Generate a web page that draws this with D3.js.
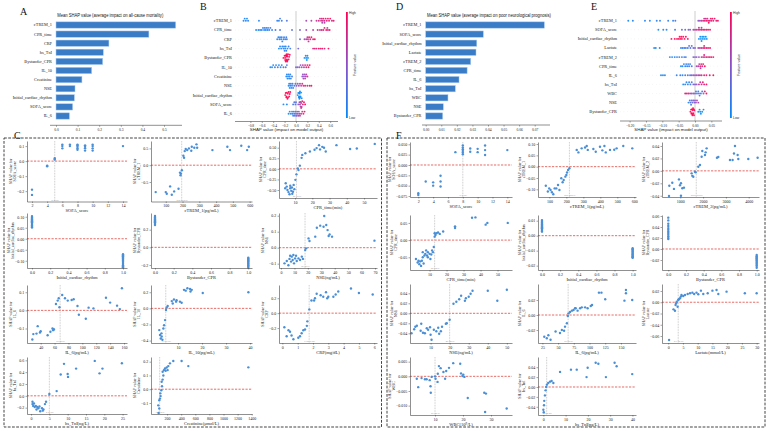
<!DOCTYPE html>
<html><head><meta charset="utf-8">
<script src="https://cdn.jsdelivr.net/npm/d3@7/dist/d3.min.js"></script>
<style>html,body{margin:0;padding:0;background:#fff;}svg{display:block;}</style>
</head><body>
<svg id="chart" width="767" height="431"></svg>
<script>
// ================= DATA =================
const featuresA = ["cTREM_1","CPR_time","CRP","hs_TnI","Bystander_CPR","IL_10","Creatinine","NSE","Initial_cardiac_rhythm","SOFA_score","IL_6"];
const meanShapA = [0.554,0.43,0.245,0.219,0.216,0.165,0.12,0.088,0.085,0.077,0.062];
const ticksA = [0,0.1,0.2,0.3,0.4,0.5];
const featuresD = ["cTREM_1","SOFA_score","Initial_cardiac_rhythm","Lactate","cTREM_2","CPR_time","IL_6","hs_TnI","WBC","NSE","Bystander_CPR"];
const meanShapD = [0.0762,0.037,0.0328,0.0323,0.0289,0.0266,0.0214,0.019,0.0143,0.0113,0.0109];
const ticksD = [0,0.01,0.02,0.03,0.04,0.05,0.06,0.07];

// beeswarm B: [shap value, normalised feature value]
const B_cTREM_1 = [[-0.92,0.05],[-0.9,0.08],[-0.88,0.1],[-0.86,0.05],[-0.84,0.12],[-0.65,0.1],[-0.33,0.15],[-0.3,0.12],[-0.28,0.2],[-0.25,0.18],[-0.16,0.25],[0.18,0.6],[0.27,0.65],[0.36,0.75],[0.4,0.8],[0.42,0.7],[0.44,0.85],[0.45,0.9],[0.47,0.75],[0.48,0.95],[0.5,0.8],[0.52,0.9],[0.54,0.85],[0.56,0.95],[0.58,0.9],[0.6,1],[0.63,0.85],[0.66,0.9],[0.46,0.6],[0.5,0.7]];
const B_CPR_time = [[-0.7,0.05],[-0.66,0.1],[-0.63,0.08],[-0.6,0.12],[-0.58,0.1],[-0.56,0.05],[-0.55,0.15],[-0.53,0.1],[-0.52,0.12],[-0.5,0.08],[-0.49,0.15],[-0.47,0.1],[-0.45,0.2],[-0.42,0.15],[-0.36,0.2],[-0.28,0.25],[-0.07,0.3],[0.07,0.4],[0.18,0.6],[0.3,0.7],[0.38,0.8],[0.42,0.75],[0.45,0.9],[0.48,0.85],[0.5,0.95],[0.53,0.9],[0.56,0.85],[0.59,1],[0.55,0.7]];
const B_CRP = [[-0.33,0.05],[-0.31,0.1],[-0.29,0.08],[-0.28,0.12],[-0.26,0.1],[-0.25,0.15],[-0.24,0.05],[-0.22,0.12],[-0.21,0.1],[-0.19,0.15],[-0.17,0.2],[-0.16,0.12],[0.07,0.35],[0.15,0.6],[0.18,0.7],[0.2,0.65],[0.21,0.8],[0.22,0.75],[0.23,0.9],[0.25,0.85],[0.27,0.95],[0.3,0.9],[0.33,1]];
const B_hs_TnI = [[-0.3,0.05],[-0.28,0.1],[-0.26,0.08],[-0.24,0.12],[-0.22,0.1],[-0.21,0.05],[-0.2,0.15],[-0.19,0.1],[-0.18,0.08],[-0.17,0.12],[-0.15,0.1],[-0.13,0.15],[-0.1,0.2],[0.04,0.4],[0.3,0.8],[0.33,0.9],[0.36,0.85],[0.4,0.95],[0.43,0.9],[0.46,1],[0.5,0.85],[0.57,0.95]];
const B_Bystander_CPR = [[-0.22,1],[-0.2,1],[-0.19,1],[-0.19,1],[-0.18,1],[-0.18,1],[-0.17,1],[-0.17,1],[-0.165,1],[-0.16,1],[-0.16,1],[-0.155,1],[-0.15,1],[-0.15,1],[-0.14,1],[-0.13,1],[-0.12,1],[-0.11,1],[0.15,0],[0.17,0],[0.18,0],[0.19,0],[0.2,0],[0.21,0]];
const B_IL_10 = [[-0.45,0.05],[-0.42,0.1],[-0.4,0.08],[-0.37,0.12],[-0.35,0.1],[-0.32,0.15],[-0.3,0.1],[-0.27,0.12],[-0.25,0.15],[-0.22,0.2],[-0.18,0.2],[-0.16,0.25],[0.0,0.4],[0.03,0.45],[0.06,0.55],[0.08,0.5],[0.1,0.6],[0.12,0.7],[0.14,0.65],[0.16,0.8],[0.18,0.9],[0.2,0.85],[0.22,0.95],[0.24,1]];
const B_Creatinine = [[-0.17,0.05],[-0.16,0.1],[-0.15,0.08],[-0.14,0.12],[-0.13,0.1],[-0.12,0.05],[-0.11,0.15],[-0.1,0.1],[-0.09,0.12],[-0.07,0.2],[0.11,0.5],[0.12,0.55],[0.13,0.6],[0.14,0.5],[0.15,0.55],[0.16,0.65],[0.17,0.6],[0.18,0.7],[0.2,0.8]];
const B_NSE = [[-0.13,0.05],[-0.12,0.1],[-0.11,0.12],[-0.1,0.08],[-0.09,0.15],[-0.08,0.1],[-0.07,0.12],[-0.06,0.2],[-0.05,0.15],[-0.03,0.2],[-0.01,0.25],[0.01,0.5],[0.03,0.55],[0.05,0.6],[0.07,0.7],[0.09,0.65],[0.11,0.8],[0.13,0.75],[0.16,0.9],[0.2,0.85],[0.24,0.95],[0.27,1]];
const B_Initial_cardiac_rhythm = [[-0.19,1],[-0.18,1],[-0.17,1],[-0.165,1],[-0.16,1],[-0.15,1],[-0.145,1],[-0.14,1],[-0.13,1],[-0.12,1],[-0.11,1],[-0.1,1],[0.03,0],[0.04,0],[0.05,0],[0.055,0],[0.06,0],[0.06,0],[0.065,0],[0.07,0],[0.07,0],[0.08,0],[0.09,0],[0.1,0]];
const B_SOFA_score = [[-0.22,0.05],[-0.16,0.1],[-0.05,0.2],[-0.03,0.25],[-0.01,0.3],[0.0,0.3],[0.04,0.5],[0.06,0.6],[0.07,0.7],[0.08,0.65],[0.08,0.7],[0.09,0.8],[0.09,0.6],[0.1,0.75],[0.11,0.9],[0.12,0.85],[0.14,0.95],[0.16,1]];
const B_IL_6 = [[-0.13,0.05],[-0.11,0.1],[-0.09,0.12],[-0.07,0.15],[-0.06,0.1],[-0.05,0.2],[-0.04,0.15],[-0.03,0.25],[-0.02,0.2],[-0.01,0.3],[0.0,0.4],[0.01,0.45],[0.02,0.5],[0.03,0.55],[0.04,0.6],[0.05,0.5],[0.06,0.65],[0.07,0.7],[0.09,0.75],[0.11,0.8],[0.13,0.85],[0.15,0.95]];
const ticksB = [-0.8,-0.6,-0.4,-0.2,0,0.2,0.4,0.6];

// beeswarm E
const E_cTREM_1 = [[-0.204,0.05],[-0.19,0.08],[-0.153,0.1],[-0.138,0.05],[-0.117,0.12],[-0.107,0.1],[-0.082,0.15],[-0.067,0.12],[-0.06,0.2],[0.01,0.5],[0.015,0.6],[0.02,0.7],[0.025,0.8],[0.028,0.75],[0.03,0.9],[0.033,0.85],[0.035,0.95],[0.038,0.8],[0.04,0.9],[0.042,1],[0.045,0.85],[0.048,0.95],[0.05,0.9],[0.053,1],[0.056,0.85],[0.06,0.95],[0.065,0.9],[0.07,1]];
const E_SOFA_score = [[-0.112,0.05],[-0.097,0.1],[-0.087,0.1],[-0.061,0.15],[-0.04,0.3],[-0.03,0.35],[-0.02,0.4],[-0.015,0.5],[-0.005,0.6],[0.0,0.7],[0.005,0.75],[0.01,0.8],[0.012,0.75],[0.015,0.85],[0.02,0.9],[0.02,0.7],[0.025,0.95],[0.03,0.85],[0.035,0.9],[0.04,1],[0.046,0.95]];
const E_Initial_cardiac_rhythm = [[-0.072,1],[-0.062,1],[-0.055,1],[-0.05,1],[-0.047,1],[-0.045,1],[-0.042,1],[-0.04,1],[-0.036,1],[-0.032,1],[-0.028,1],[-0.022,1],[0.012,0],[0.016,0],[0.018,0],[0.02,0],[0.022,0],[0.024,0],[0.027,0],[0.03,0],[0.033,0],[0.036,0]];
const E_Lactate = [[-0.125,0.05],[-0.12,0.08],[-0.108,0.1],[-0.043,0.15],[-0.038,0.1],[-0.033,0.2],[-0.028,0.15],[-0.022,0.2],[-0.018,0.25],[-0.014,0.3],[-0.01,0.3],[-0.005,0.35],[0.0,0.45],[0.01,0.6],[0.015,0.7],[0.02,0.75],[0.025,0.8],[0.028,0.85],[0.03,0.9],[0.035,0.85],[0.04,0.95],[0.046,1]];
const E_cTREM_2 = [[-0.077,0.05],[-0.07,0.1],[-0.062,0.08],[-0.055,0.12],[-0.048,0.1],[-0.04,0.15],[-0.033,0.2],[-0.028,0.15],[-0.005,0.4],[0.0,0.45],[0.005,0.5],[0.012,0.55],[0.02,0.7],[0.025,0.8],[0.028,0.85],[0.03,0.75],[0.035,0.9],[0.04,0.85],[0.045,0.95],[0.05,1],[0.056,0.9]];
const E_CPR_time = [[-0.043,0.05],[-0.038,0.1],[-0.034,0.12],[-0.03,0.08],[-0.027,0.15],[-0.024,0.1],[-0.021,0.12],[-0.018,0.2],[-0.015,0.15],[-0.01,0.25],[0.005,0.6],[0.01,0.7],[0.013,0.75],[0.016,0.8],[0.017,0.7],[0.019,0.85],[0.022,0.9],[0.025,0.95],[0.03,1]];
const E_IL_6 = [[-0.104,0.05],[-0.098,0.08],[-0.092,0.1],[-0.056,0.12],[-0.045,0.15],[-0.038,0.1],[-0.03,0.2],[-0.022,0.25],[-0.015,0.3],[-0.01,0.45],[-0.005,0.5],[0.0,0.55],[0.005,0.6],[0.01,0.65],[0.015,0.75],[0.02,0.8],[0.028,0.85],[0.035,0.9],[0.045,0.95],[0.056,1]];
const E_hs_TnI = [[-0.036,0.05],[-0.03,0.1],[-0.026,0.12],[-0.022,0.15],[-0.018,0.1],[-0.014,0.2],[-0.01,0.25],[-0.005,0.4],[0.0,0.45],[0.005,0.5],[0.012,0.7],[0.016,0.75],[0.02,0.8],[0.024,0.9],[0.028,0.85],[0.035,1]];
const E_WBC = [[-0.03,0.9],[-0.025,0.85],[-0.02,0.8],[-0.015,0.6],[-0.01,0.55],[-0.005,0.5],[0.0,0.45],[0.003,0.2],[0.006,0.15],[0.01,0.1],[0.012,0.4],[0.014,0.2],[0.018,0.15],[0.022,0.25],[0.026,0.3],[0.03,0.9],[0.035,1]];
const E_NSE = [[-0.02,0.1],[-0.016,0.15],[-0.014,0.35],[-0.012,0.2],[-0.01,0.5],[-0.008,0.3],[-0.005,0.4],[-0.002,0.5],[0.0,0.45],[0.003,0.55],[0.006,0.6],[0.01,0.65]];
const E_Bystander_CPR = [[-0.014,1],[-0.012,1],[-0.011,1],[-0.01,1],[-0.009,1],[-0.008,1],[-0.007,1],[-0.0065,1],[-0.006,1],[-0.005,1],[-0.004,1],[-0.003,1],[-0.002,1],[0.01,0],[0.014,0],[0.016,0],[0.018,0],[0.022,0],[0.026,0]];
const ticksE = [-0.2,-0.15,-0.1,-0.05,0,0.05];

// dependence plots, panel C: [feature value, SHAP value]
const C_SOFA_score = [[2,-0.19],[2,-0.225],[4,-0.03],[4,-0.035],[5,0.01],[5,0.02],[5,0.015],[6,0.085],[6,0.1],[6,0.11],[7,0.1],[7,0.11],[8,0.075],[8,0.085],[8,0.095],[8,0.105],[8,0.11],[9,0.07],[9,0.085],[9,0.095],[9,0.105],[10,0.07],[10,0.085],[10,0.1],[10,0.11],[14,0.1]];
const C_cTREM_1 = [[40,-0.8],[100,-0.8],[106,-0.85],[126,-0.63],[136,-0.88],[150,-0.78],[176,-0.7],[185,-0.22],[188,-0.3],[190,-0.25],[196,-0.15],[205,0.28],[209,0.22],[213,0.42],[219,0.48],[228,0.45],[238,0.5],[252,0.43],[255,0.55],[270,0.52],[283,0.62],[287,0.52],[378,0.45],[467,0.55],[483,0.45],[550,0.58],[585,0.45],[595,0.55]];
const C_CPR_time = [[4.3,-0.46],[4.6,-0.34],[5.2,-0.42],[5.6,-0.5],[6.2,-0.55],[6.8,-0.6],[7.2,-0.4],[7.2,-0.46],[7.8,-0.52],[8.2,-0.44],[8.4,-0.59],[8.8,-0.54],[9.2,-0.38],[9.6,-0.48],[10.2,-0.26],[10.8,-0.13],[11.6,0.01],[12,-0.03],[12.8,0.075],[13.8,0.26],[14.2,0.33],[16,0.37],[18.6,0.41],[21.3,0.45],[22.5,0.49],[23.9,0.56],[24.5,0.46],[25.8,0.52],[26.8,0.5],[27.8,0.41],[34,0.56],[41.9,0.47],[45.8,0.48],[56.2,0.59]];
const C_Initial_cardiac_rhythm = [[0,0.103],[0,0.099],[0,0.095],[0,0.091],[0,0.087],[0,0.083],[0,0.079],[0,0.075],[0,0.071],[0,0.067],[0,0.063],[0,0.059],[0,0.055],[0,0.051],[1,-0.07],[1,-0.075],[1,-0.08],[1,-0.085],[1,-0.09],[1,-0.095],[1,-0.1],[1,-0.105],[1,-0.11],[1,-0.115],[1,-0.12],[1,-0.125],[1,-0.13]];
const C_Bystander_CPR = [[0,0.355],[0,0.345],[0,0.335],[0,0.325],[0,0.315],[0,0.305],[0,0.295],[0,0.285],[0,0.275],[0,0.265],[0,0.253],[1,-0.117],[1,-0.127],[1,-0.137],[1,-0.147],[1,-0.157],[1,-0.167],[1,-0.177],[1,-0.187],[1,-0.197],[1,-0.207],[1,-0.217],[1,-0.23]];
const C_NSE = [[2.6,-0.098],[4.3,-0.083],[5.5,-0.11],[6.3,-0.07],[6.8,-0.05],[7.5,-0.087],[8,-0.056],[8.7,-0.077],[9.2,-0.046],[9.7,-0.098],[10.5,-0.067],[11.2,-0.05],[11.7,-0.083],[13,-0.067],[14.2,-0.077],[15.5,-0.056],[16.3,-0.07],[18,-0.015],[18.7,-0.004],[20.5,0.058],[21.2,0.042],[25.5,0.069],[26.7,0.125],[29.2,0.138],[31.7,0.131],[32.2,0.198],[33.7,0.142],[34.7,0.11],[35.5,0.073],[36.2,0.083],[38,0.069],[69.6,0.044]];
const C_IL_6 = [[28,-0.161],[29.4,-0.131],[34,-0.128],[35.7,-0.087],[39,-0.122],[40,-0.115],[50,-0.137],[54,-0.118],[57,-0.1],[58,-0.109],[59,-0.104],[62,0.035],[64.5,0.054],[66,0.067],[67,0.017],[71,0.085],[75,0.067],[79,0.054],[84.6,0.057],[87.5,0.061],[93,0.024],[95,-0.024],[105,-0.046],[109,0.015],[116,0.011],[134,0.07],[140,0.043],[150,0.026],[154,0.007],[157,0.122]];
const C_IL_10 = [[2.2,-0.27],[2.5,-0.33],[2.8,-0.375],[3.1,-0.31],[3.2,-0.35],[3.5,-0.39],[3.9,-0.25],[4.2,-0.21],[4.6,-0.146],[5,-0.02],[5.3,0.01],[5.7,0.03],[7.4,0.09],[7.8,0.06],[8.3,0.11],[9.2,0.083],[9.4,0.1],[10.8,0.083],[11.5,0.07],[12.5,0.23],[13.2,0.22],[13.9,0.25],[15,0.24],[15.2,0.21],[15.7,0.23],[20.3,0.19],[39.3,0.2]];
const C_CRP = [[0.13,-0.19],[0.28,-0.31],[0.4,-0.23],[0.5,-0.25],[0.6,-0.3],[0.72,-0.35],[1.04,-0.33],[1.15,-0.31],[1.26,-0.27],[1.37,-0.23],[1.48,-0.22],[1.6,-0.17],[1.63,-0.11],[1.76,0.05],[1.9,0.17],[2.07,0.17],[2.13,0.2],[2.24,0.26],[2.5,0.24],[2.67,0.22],[2.85,0.28],[2.93,0.2],[3.0,0.22],[3.33,0.22],[3.48,0.25],[3.65,0.29],[4.48,0.33],[5.0,0.27],[5.9,0.25]];
const C_hs_TnI = [[0.4,-0.1],[0.4,-0.14],[0.6,-0.17],[0.8,-0.13],[1.0,-0.19],[1.3,-0.17],[1.5,-0.23],[1.7,-0.19],[2.0,-0.21],[2.3,-0.18],[2.5,-0.26],[3.0,-0.21],[3.2,-0.25],[3.4,-0.23],[3.8,-0.14],[4.1,-0.1],[5.0,0.03],[7.0,0.08],[8.1,0.36],[9.0,0.54],[10.0,0.37],[10.1,0.32],[12.3,0.46],[17.4,0.59],[18.7,0.38],[19.5,0.46],[24.8,0.55]];
const C_Creatinine = [[75,-0.117],[80,-0.173],[89,-0.14],[89,-0.08],[99,-0.068],[104,-0.03],[108,-0.05],[118,-0.007],[123,0.054],[128,0.022],[137,0.07],[137,0.127],[147,0.1],[156,0.139],[170,0.151],[180,0.134],[194,0.158],[208,0.139],[217,0.168],[241,0.188],[288,0.205],[406,0.205],[501,0.168],[1352,0.159]];

// dependence plots, panel F
const F_SOFA_score = [[2,-0.0685],[2,-0.0725],[3,-0.04],[4,-0.042],[4,-0.05],[5,-0.026],[5,-0.04],[5,-0.052],[7,0.031],[8,0.047],[8,0.042],[8,0.038],[8,0.034],[8,0.03],[8,0.026],[9,0.04],[9,0.032],[10,0.039],[10,0.031],[11,0.047],[11,0.036],[11,0.024],[14,0.036]];
const F_cTREM_1 = [[79,-0.084],[91,-0.11],[99,-0.096],[107,-0.103],[115,-0.113],[123,-0.122],[131,-0.096],[141,-0.096],[151,-0.081],[159,-0.103],[170,-0.051],[178,-0.069],[184,-0.059],[194,-0.044],[200,-0.037],[204,-0.026],[210,-0.015],[218,-0.007],[261,0.074],[271,0.063],[290,0.081],[310,0.085],[320,0.091],[326,0.074],[359,0.078],[373,0.066],[398,0.088],[412,0.072],[424,0.091],[432,0.063],[457,0.074],[482,0.075],[496,0.081],[535,0.091],[588,0.081]];
const F_cTREM_2 = [[504,-0.0405],[518,-0.024],[649,-0.019],[722,-0.029],[941,-0.0137],[985,-0.023],[1029,-0.02],[1029,-0.04],[1088,-0.028],[1161,-0.027],[1497,-0.004],[1526,-0.008],[1570,-0.0094],[1643,-0.0013],[1673,-0.0024],[1790,0.0067],[1863,0.0094],[1936,0.0228],[1965,0.032],[2082,0.0255],[2111,0.0298],[2155,0.0362],[2608,0.0212],[2667,0.0223],[3178,0.0175],[3295,0.0175],[3354,0.028],[3398,0.04],[3515,0.0255],[3544,0.019],[3982,0.019],[4392,0.0212]];
const F_CPR_time = [[2,-0.055],[3,-0.065],[3.5,-0.06],[4,-0.07],[4.5,-0.062],[5,-0.075],[5.5,-0.06],[6,-0.035],[6,-0.05],[6.5,-0.068],[7,-0.045],[7.5,-0.04],[8,-0.03],[8.5,-0.045],[9,-0.035],[9,-0.05],[10,-0.04],[10.5,-0.055],[11,-0.042],[11.5,-0.03],[12,-0.035],[12.5,-0.02],[13,0.01],[13,0.02],[13.5,0.015],[14,0.02],[15,0.022],[16,0.018],[18,0.025],[25,0.04],[25,0.035],[35,0.065],[37,0.066],[43,0.045],[44,0.05],[56,0.05]];
const F_Initial_cardiac_rhythm = [[0,0.0104],[0,0.0098],[0,0.0092],[0,0.0086],[0,0.008],[0,0.0074],[0,0.0068],[0,0.0062],[0,0.0056],[0,0.005],[0,0.0044],[0,0.0038],[0,0.0032],[0,0.0027],[1,-0.0084],[1,-0.009],[1,-0.0096],[1,-0.0102],[1,-0.0108],[1,-0.0114],[1,-0.012],[1,-0.0126],[1,-0.0132],[1,-0.0138],[1,-0.0144],[1,-0.0147]];
const F_Bystander_CPR = [[0,0.057],[0,0.052],[0,0.046],[0,0.042],[0,0.038],[0,0.035],[0,0.032],[0,0.029],[0,0.026],[0,0.023],[0,0.02],[0,0.018],[1,-0.011],[1,-0.013],[1,-0.015],[1,-0.017],[1,-0.019],[1,-0.021],[1,-0.023],[1,-0.025],[1,-0.027],[1,-0.029],[1,-0.031],[1,-0.034]];
const F_NSE = [[0,-0.04],[1.4,-0.032],[2,-0.027],[2.8,-0.025],[4.8,-0.035],[5.1,-0.021],[6,-0.039],[7,-0.04],[8,-0.03],[8.7,-0.033],[9.7,-0.028],[10,-0.043],[10.5,-0.053],[11.7,-0.033],[13,-0.036],[14,-0.029],[14.5,-0.041],[15.4,-0.036],[16,-0.027],[18,-0.021],[18.5,-0.02],[20,-0.013],[22,0.019],[23.5,0.023],[25,0.028],[26,0.035],[28,0.025],[28.5,0.03],[30,0.033],[31,0.039],[32,0.045],[40,0.045],[45,0.025],[50,0.047]];
const F_IL_6 = [[28,-0.0289],[32,-0.031],[34.5,-0.027],[38,-0.033],[46,-0.022],[53,-0.024],[56,-0.02],[59.5,-0.021],[61,-0.0155],[64,-0.011],[65.5,-0.0013],[66.6,0.0022],[69,0.004],[72,0.0058],[74.6,0.0067],[77,0.0089],[78,0.0089],[81,0.0058],[85,0.0089],[87.7,0.0102],[93,0.0102],[97,0.0089],[102,0.012],[104,0.0133],[115,0.0298],[119,0.0298],[125,0.0209],[155.6,0.0191],[158,0.0333],[158,0.0289],[168,0.02]];
const F_Lactate = [[0.3,-0.067],[1.8,-0.0126],[2.3,-0.015],[2.5,-0.0049],[2.7,-0.0019],[2.9,0.001],[3.2,-0.0079],[3.4,0.004],[3.6,0.0052],[4,0.007],[4.3,0.01],[4.5,0.0129],[5.1,0.011],[5.7,0.0129],[6.6,0.0147],[7.4,0.0159],[8.2,0.017],[8.8,0.0147],[9.6,0.017],[10.2,0.0141],[11.1,0.0206],[11.9,0.0147],[13.4,0.0159],[15,0.0206],[16.4,0.0218],[17,0.0147],[19.8,0.0188],[26,0.0159],[30,0.0159]];
const F_WBC = [[3.5,-0.0008],[4,-0.0037],[5.2,-0.0006],[6.4,-0.001],[7,-0.001],[8.1,-0.0013],[8.4,-0.0034],[8.5,-0.0056],[8.8,-0.0002],[10,0.0],[10.2,-0.0008],[10.9,-0.0019],[11,0.0009],[11.4,0.0035],[12,0.0028],[13,0.0015],[13.6,-0.0008],[14,0.0018],[15,0.0029],[16.5,0.0045],[19,0.0043],[19.3,0.001],[19.8,0.0001],[20.1,0.0006],[20.5,-0.0002],[21.7,-0.0074],[27.6,-0.0056],[28.2,-0.0059],[27.9,-0.0122],[35.6,-0.011]];
const F_hs_TnI = [[0,-0.046],[0.2,-0.051],[0.3,-0.037],[0.4,-0.028],[0.7,-0.017],[1,-0.0068],[1.3,0],[1.6,0.0047],[2.2,0.0081],[3,0.0108],[3.7,0.0122],[4.5,0.0081],[7.5,0.0305],[12.4,0.035],[15,0.035],[19.4,0.02],[19.9,0.039],[23.5,0.049],[24.7,0.047],[28.1,0.02],[32,0.049],[32.9,0.042],[39.9,0.026]];

// tick values for dependence plots
const tk = {
  sofaX:[2,4,6,8,10,12,14], trem1X:[100,200,300,400,500,600], cprX:[10,20,30,40,50], binX:[0,0.2,0.4,0.6,0.8,1.0],
  nseCX:[0,10,20,30,40,50,60,70], il6CX:[40,60,80,100,120,140,160], il10X:[10,20,30,40], crpX:[0,1,2,3,4,5,6],
  tniCX:[0,5,10,15,20,25], creaX:[200,400,600,800,1000,1200,1400], trem2X:[1000,2000,3000,4000], nseFX:[10,20,30,40,50],
  il6FX:[25,50,75,100,125,150], lacX:[0,5,10,15,20,25,30], wbcX:[10,20,30], tniFX:[0,10,20,30,40]
};

// ================= DRAWING =================
const svg = d3.select("#chart");
const SERIF = "'Liberation Serif','Times New Roman',serif";
const SANS = "'Liberation Sans',Arial,sans-serif";
const BLUE = "#3b7cc6";
const PT = "#4a8fd6";
const colorFV = d3.scaleLinear().domain([0,0.5,1]).range(["#008bfb","#8b4fc8","#ff0052"]);

function styleAxis(g, fs){
  g.attr("font-family", SERIF).attr("font-size", fs);
  g.selectAll("path.domain").attr("stroke","#444").attr("stroke-width",0.6);
  g.selectAll(".tick line").attr("stroke","#444").attr("stroke-width",0.5);
  g.selectAll(".tick text").attr("fill","#222");
}

function drawBars(labels, values, ticks, o){
  const g = svg.append("g");
  const x = d3.scaleLinear().domain([0, ticks[ticks.length-1]]).range([o.x0, o.x1]);
  const y = d3.scalePoint().domain(labels).range([o.yTop, o.yBot]);
  const bh = 6.3;
  g.selectAll("rect").data(labels).join("rect")
    .attr("x", x(0)).attr("y", d => y(d) - bh/2)
    .attr("width", (d,i) => x(values[i]) - x(0)).attr("height", bh)
    .attr("fill", BLUE).attr("stroke", "#a9cbee").attr("stroke-width", 0.5);
  g.selectAll("text.lab").data(labels).join("text").attr("class","lab")
    .attr("x", o.labelX).attr("y", d => y(d) + 1.4).attr("text-anchor","end")
    .attr("font-family", SERIF).attr("font-size", 4.3).attr("fill","#222").text(d => d);
  const ax = g.append("g").attr("transform", `translate(0,${o.axisY})`)
    .call(d3.axisBottom(x).tickValues(ticks).tickFormat(d3.format(o.fmt)).tickSize(1.5).tickSizeOuter(0).tickPadding(1.5));
  ax.select("path.domain").remove();
  g.append("line").attr("x1", o.ax0).attr("x2", o.ax1).attr("y1", o.axisY).attr("y2", o.axisY).attr("stroke","#444").attr("stroke-width",0.6);
  styleAxis(ax, 3.6);
  g.append("text").attr("x", o.titleX).attr("y", o.titleY).attr("font-family", SANS).attr("font-size", 4.8)
    .attr("textLength", o.titleW).attr("lengthAdjust","spacingAndGlyphs").attr("fill","#111").text(o.title);
}

function swarmOffsets(vals, xs, r, maxOff){
  const items = vals.map((d,i) => ({i, px: xs(d[0])})).sort((a,b) => a.px - b.px);
  const placed = []; const off = new Array(vals.length);
  for (const it of items){
    let dy = 0, found = false;
    for (let k = 0; k < 30; k++){
      dy = (k % 2 === 0 ? 1 : -1) * Math.ceil(k/2) * r * 1.1;
      if (Math.abs(dy) > maxOff) break;
      if (placed.every(p => Math.abs(p.px - it.px) >= r*1.7 || Math.abs(p.dy - dy) >= r*1.7)) { found = true; break; }
    }
    if (!found) dy = (placed.length % 2 ? 1 : -1) * maxOff * (0.4 + 0.6*((placed.length % 3)/2));
    placed.push({px: it.px, dy}); off[it.i] = dy;
  }
  return off;
}

function drawSwarm(labels, series, ticks, o){
  const g = svg.append("g");
  const x = d3.scaleLinear().domain([o.d0, o.d1]).range([o.r0, o.r1]);
  const y = d3.scalePoint().domain(labels).range([o.yTop, o.yBot]);
  labels.forEach(l => g.append("line").attr("x1", o.f0).attr("x2", o.f1).attr("y1", y(l)).attr("y2", y(l))
    .attr("stroke","#d8d8d8").attr("stroke-width",0.4).attr("stroke-dasharray","0.6,3"));
  g.append("line").attr("x1", x(0)).attr("x2", x(0)).attr("y1", o.zTop).attr("y2", o.axisY).attr("stroke","#999").attr("stroke-width",0.5);
  labels.forEach((l,i) => {
    const data = series[i];
    const off = swarmOffsets(data, x, 0.95, 3.6);
    g.selectAll(null).data(data).join("circle")
      .attr("cx", d => x(d[0])).attr("cy", (d,j) => y(l) + off[j]).attr("r", 0.95)
      .attr("fill", d => colorFV(d[1])).attr("opacity", 0.9);
    g.append("text").attr("x", o.labelX).attr("y", y(l) + 1.4).attr("text-anchor","end")
      .attr("font-family", SERIF).attr("font-size", 4.3).attr("fill","#222").text(l);
  });
  const ax = g.append("g").attr("transform", `translate(0,${o.axisY})`)
    .call(d3.axisBottom(x).tickValues(ticks).tickFormat(d3.format(o.fmt)).tickSize(1.5).tickSizeOuter(0).tickPadding(1.5));
  ax.select("path.domain").remove();
  g.append("line").attr("x1", o.f0).attr("x2", o.f1).attr("y1", o.axisY).attr("y2", o.axisY).attr("stroke","#444").attr("stroke-width",0.6);
  styleAxis(ax, 3.6);
  g.append("text").attr("x", (o.f0 + o.f1)/2).attr("y", o.axisY + 9.5).attr("text-anchor","middle")
    .attr("font-family", SANS).attr("font-size", 4.4).attr("fill","#222").text("SHAP value (impact on model output)");
  const gid = "grad" + o.id;
  const grad = svg.append("defs").append("linearGradient").attr("id", gid).attr("x1",0).attr("y1",1).attr("x2",0).attr("y2",0);
  [0,0.25,0.5,0.75,1].forEach(t => grad.append("stop").attr("offset", t).attr("stop-color", colorFV(t)));
  g.append("rect").attr("x", o.cbX).attr("y", o.cbTop).attr("width", 1.8).attr("height", o.cbBot - o.cbTop).attr("fill", `url(#${gid})`);
  g.append("text").attr("x", o.cbX + 3).attr("y", o.cbTop + 2).attr("font-family", SANS).attr("font-size", 3.4).attr("fill","#333").text("High");
  g.append("text").attr("x", o.cbX + 3).attr("y", o.cbBot + 1).attr("font-family", SANS).attr("font-size", 3.4).attr("fill","#333").text("Low");
  g.append("text").attr("transform", `translate(${o.cbX + 10},${(o.cbTop + o.cbBot)/2}) rotate(-90)`).attr("text-anchor","middle")
    .attr("font-family", SANS).attr("font-size", 3.6).attr("fill","#333").text("Feature value");
}

function drawDep(pts, o){
  const g = svg.append("g");
  const [x0,x1,y0,y1] = o.f;
  const x = d3.scaleLinear().domain(o.xd).range([x0, x1]);
  const y = d3.scaleLinear().domain(o.yd).range([y1, y0]);
  g.append("line").attr("x1", x0).attr("x2", x1).attr("y1", y(0)).attr("y2", y(0))
    .attr("stroke","#e2463d").attr("stroke-width",0.8).attr("stroke-dasharray","2.2,1.3");
  if (o.thr != null){
    g.append("line").attr("x1", x(o.thr)).attr("x2", x(o.thr)).attr("y1", y0).attr("y2", y1)
      .attr("stroke","#8a8a8a").attr("stroke-width",0.5).attr("stroke-dasharray","0.8,0.8");
    g.append("text").attr("x", x(o.thr) + 0.5).attr("y", y1 - 1).attr("text-anchor","middle")
      .attr("font-family", SANS).attr("font-size", 2.2).attr("fill","#999").text(o.thrText);
  }
  g.selectAll("circle").data(pts).join("circle")
    .attr("cx", d => x(d[0])).attr("cy", d => y(d[1])).attr("r", 1.2).attr("fill", PT);
  const ay = g.append("g").attr("transform", `translate(${x0},0)`)
    .call(d3.axisLeft(y).tickValues(o.yt).tickFormat(d3.format(o.yf)).tickSize(1.5).tickSizeOuter(0).tickPadding(1.2));
  styleAxis(ay, 4.0);
  const ax = g.append("g").attr("transform", `translate(0,${y1})`)
    .call(d3.axisBottom(x).tickValues(o.xt).tickFormat(d3.format(o.xf)).tickSize(1.5).tickSizeOuter(0).tickPadding(1.2));
  styleAxis(ax, 4.0);
  g.append("text").attr("x", (x0 + x1)/2).attr("y", y1 + 10.5).attr("text-anchor","middle")
    .attr("font-family", SERIF).attr("font-size", 4.5).attr("fill","#222").text(o.xl);
  const bb = ay.node().getBBox();
  const lx = x0 + bb.x - 1.2, cy = (y0 + y1)/2;
  g.append("text").attr("transform", `translate(${lx},${cy}) rotate(-90)`).attr("text-anchor","middle")
    .attr("font-family", SERIF).attr("font-size", 4.0).attr("fill","#222").text(o.yl);
  g.append("text").attr("transform", `translate(${lx - 4.3},${cy}) rotate(-90)`).attr("text-anchor","middle")
    .attr("font-family", SERIF).attr("font-size", 4.0).attr("fill","#222").text("SHAP value for");
}

drawBars(featuresA, meanShapA, ticksA, {x0:56, x1:164, yTop:25, yBot:116, labelX:52, axisY:125.3, ax0:50, ax1:182, fmt:".1f",
  title:"Mean SHAP value (average impact on all-cause mortality)", titleX:57.3, titleY:16.5, titleW:106});
drawBars(featuresD, meanShapD, ticksD, {x0:425.7, x1:534.7, yTop:25, yBot:116, labelX:421.5, axisY:125, ax0:422, ax1:550, fmt:".2f",
  title:"Mean SHAP value (average impact on poor neurological prognosis)", titleX:427, titleY:16.5, titleW:124});

drawSwarm(featuresA, [B_cTREM_1,B_CPR_time,B_CRP,B_hs_TnI,B_Bystander_CPR,B_IL_10,B_Creatinine,B_NSE,B_Initial_cardiac_rhythm,B_SOFA_score,B_IL_6], ticksB,
  {id:"B", d0:-1, d1:0.6, r0:239, r1:330.2, yTop:20.7, yBot:113.7, f0:235, f1:338, zTop:11, axisY:121.5, labelX:232, fmt:".1f", cbX:346, cbTop:12, cbBot:118});
drawSwarm(featuresD, [E_cTREM_1,E_SOFA_score,E_Initial_cardiac_rhythm,E_Lactate,E_cTREM_2,E_CPR_time,E_IL_6,E_hs_TnI,E_WBC,E_NSE,E_Bystander_CPR], ticksE,
  {id:"E", d0:-0.2, d1:0.05, r0:629.6, r1:711.35, yTop:20.7, yBot:111.7, f0:620, f1:722, zTop:11, axisY:121, labelX:617, fmt:".2f", cbX:730, cbTop:12, cbBot:118});

const C1=[27,127], C2=[151,252], C3=[279,377];
const F1=[410,512], F2=[538,636], F3=[662,759];
drawDep(C_SOFA_score, {f:[...C1,141,201.5], xd:[1.34,14.53], yd:[-0.269,0.134], xt:tk.sofaX, yt:[-0.2,-0.1,0,0.1], xf:"d", yf:".1f", thr:5, thrText:"5 (5.00)", xl:"SOFA_score", yl:"SOFA_score"});
drawDep(C_cTREM_1, {f:[...C2,141,201.5], xd:[12,614], yd:[-1.08,0.72], xt:tk.trem1X, yt:[-0.5,0,0.5], xf:"d", yf:".1f", thr:195, thrText:"195 (195.0)", xl:"cTREM_1(pg/mL)", yl:"cTREM_1"});
drawDep(C_CPR_time, {f:[...C3,141,198], xd:[0.7,57.5], yd:[-0.689,0.658], xt:tk.cprX, yt:[-0.5,-0.25,0,0.25,0.5], xf:"d", yf:".2f", thr:10.8, thrText:"11 (10.8)", xl:"CPR_time(min)", yl:"CPR_time"});
drawDep(C_Initial_cardiac_rhythm, {f:[...C1,213,268], xd:[-0.055,1.044], yd:[-0.133,0.117], xt:tk.binX, yt:[-0.1,-0.05,0,0.05,0.1], xf:".1f", yf:".2f", thr:null, xl:"Initial_cardiac_rhythm", yl:"Initial_cardiac_rhythm"});
drawDep(C_Bystander_CPR, {f:[...C2,213,268], xd:[-0.043,1.04], yd:[-0.234,0.389], xt:tk.binX, yt:[-0.2,0,0.2], xf:".1f", yf:".1f", thr:null, xl:"Bystander_CPR", yl:"Bystander_CPR"});
drawDep(C_NSE, {f:[...C3,213,268], xd:[-1.5,71.5], yd:[-0.127,0.217], xt:tk.nseCX, yt:[-0.1,0,0.1,0.2], xf:"d", yf:".1f", thr:17.9, thrText:"18 (17.9)", xl:"NSE(ng/mL)", yl:"NSE"});
drawDep(C_IL_6, {f:[...C1,285,343], xd:[20.3,164.3], yd:[-0.18,0.14], xt:tk.il6CX, yt:[-0.1,0,0.1], xf:"d", yf:".1f", thr:68, thrText:"68 (68.0)", xl:"IL_6(pg/mL)", yl:"IL_6"});
drawDep(C_IL_10, {f:[...C2,285,343], xd:[-1.25,40.8], yd:[-0.43,0.29], xt:tk.il10X, yt:[-0.4,-0.2,0,0.2], xf:"d", yf:".1f", thr:4.9, thrText:"4.9 (4.90)", xl:"IL_10(pg/mL)", yl:"IL_10"});
drawDep(C_CRP, {f:[...C3,285,343], xd:[-0.22,6.18], yd:[-0.4,0.377], xt:tk.crpX, yt:[-0.2,0,0.2], xf:"d", yf:".1f", thr:1.75, thrText:"1.75 (1.75)", xl:"CRP(mg/dL)", yl:"CRP"});
drawDep(C_hs_TnI, {f:[...C1,357,414], xd:[-1.1,26.2], yd:[-0.307,0.656], xt:tk.tniCX, yt:[-0.2,0,0.2,0.4,0.6], xf:"d", yf:".1f", thr:5, thrText:"5 (5.00)", xl:"hs_TnI(ng/L)", yl:"hs_TnI"});
drawDep(C_Creatinine, {f:[...C2,357,414], xd:[-28,1404], yd:[-0.18,0.234], xt:tk.creaX, yt:[-0.1,0,0.1,0.2], xf:"d", yf:".1f", thr:95, thrText:"95 (95.0)", xl:"Creatinine(μmol/L)", yl:"Creatinine"});

drawDep(F_SOFA_score, {f:[...F1,142,197], xd:[0.88,14.63], yd:[-0.0774,0.0556], xt:tk.sofaX, yt:[-0.075,-0.05,-0.025,0,0.025,0.05], xf:"d", yf:".3f", thr:8, thrText:"8 (8.00)", xl:"SOFA_score", yl:"SOFA_score"});
drawDep(F_cTREM_1, {f:[...F2,142,197], xd:[33,610], yd:[-0.134,0.109], xt:tk.trem1X, yt:[-0.1,-0.05,0,0.05,0.1], xf:"d", yf:".2f", thr:218, thrText:"218 (218.0)", xl:"cTREM_1(pg/mL)", yl:"cTREM_1"});
drawDep(F_cTREM_2, {f:[...F3,142,197], xd:[197,4452], yd:[-0.042,0.0464], xt:tk.trem2X, yt:[-0.04,-0.02,0,0.02,0.04], xf:"d", yf:".2f", thr:1700, thrText:"1700 (1700)", xl:"cTREM_2(pg/mL)", yl:"cTREM_2"});
drawDep(F_CPR_time, {f:[...F1,215,270], xd:[-1.5,58.5], yd:[-0.087,0.073], xt:tk.cprX, yt:[-0.05,0,0.05], xf:"d", yf:".2f", thr:13, thrText:"13 (13.0)", xl:"CPR_time(min)", yl:"CPR_time"});
drawDep(F_Initial_cardiac_rhythm, {f:[...F2,215,270], xd:[-0.044,1.037], yd:[-0.0229,0.0138], xt:tk.binX, yt:[-0.02,-0.01,0,0.01], xf:".1f", yf:".2f", thr:null, xl:"Initial_cardiac_rhythm", yl:"Initial_cardiac_rhythm"});
drawDep(F_Bystander_CPR, {f:[...F3,215,270], xd:[-0.071,1.026], yd:[-0.0382,0.0618], xt:tk.binX, yt:[-0.02,0,0.02,0.04,0.06], xf:".1f", yf:".2f", thr:null, xl:"Bystander_CPR", yl:"Bystander_CPR"});
drawDep(F_NSE, {f:[...F1,284,343], xd:[-0.8,52.7], yd:[-0.0594,0.0586], xt:tk.nseFX, yt:[-0.04,-0.02,0,0.02,0.04], xf:"d", yf:".2f", thr:20, thrText:"20 (20.0)", xl:"NSE(ng/mL)", yl:"NSE"});
drawDep(F_IL_6, {f:[...F2,284,343], xd:[18,174], yd:[-0.0373,0.0413], xt:tk.il6FX, yt:[-0.02,0,0.02], xf:"d", yf:".2f", thr:66, thrText:"66 (66.0)", xl:"IL_6(pg/mL)", yl:"IL_6"});
drawDep(F_Lactate, {f:[...F3,284,343], xd:[-2.1,30.8], yd:[-0.0724,0.0324], xt:tk.lacX, yt:[-0.06,-0.04,-0.02,0,0.02], xf:"d", yf:".2f", thr:3.4, thrText:"3.4 (3.40)", xl:"Lactate(mmol/L)", yl:"Lactate"});
drawDep(F_WBC, {f:[...F1,357,415], xd:[1.07,37.5], yd:[-0.0132,0.0066], xt:tk.wbcX, yt:[-0.01,-0.005,0,0.005], xf:"d", yf:".3f", thr:10, thrText:"10 (10.0)", xl:"WBC(10⁹/L)", yl:"WBC"});
drawDep(F_hs_TnI, {f:[...F2,357,415], xd:[-2.4,41.6], yd:[-0.0566,0.0606], xt:tk.tniFX, yt:[-0.04,-0.02,0,0.02,0.04], xf:"d", yf:".2f", thr:1.5, thrText:"1.5 (1.50)", xl:"hs_TnI(pg/L)", yl:"hs_TnI"});

[[4,138,381.5,427],[387,138,765,427]].forEach(b => svg.append("rect")
  .attr("x", b[0]).attr("y", b[1]).attr("width", b[2]-b[0]).attr("height", b[3]-b[1])
  .attr("fill","none").attr("stroke","#444").attr("stroke-width",1).attr("stroke-dasharray","2.8,1.4"));
[["A",20,15],["B",200,10],["D",396,10],["E",591,10],["C",14,138.5],["F",396,138.5]].forEach(t =>
  svg.append("text").attr("x", t[1]).attr("y", t[2]).attr("font-family", SERIF).attr("font-size", 10).attr("fill","#111").text(t[0]));
</script>
</body></html>
